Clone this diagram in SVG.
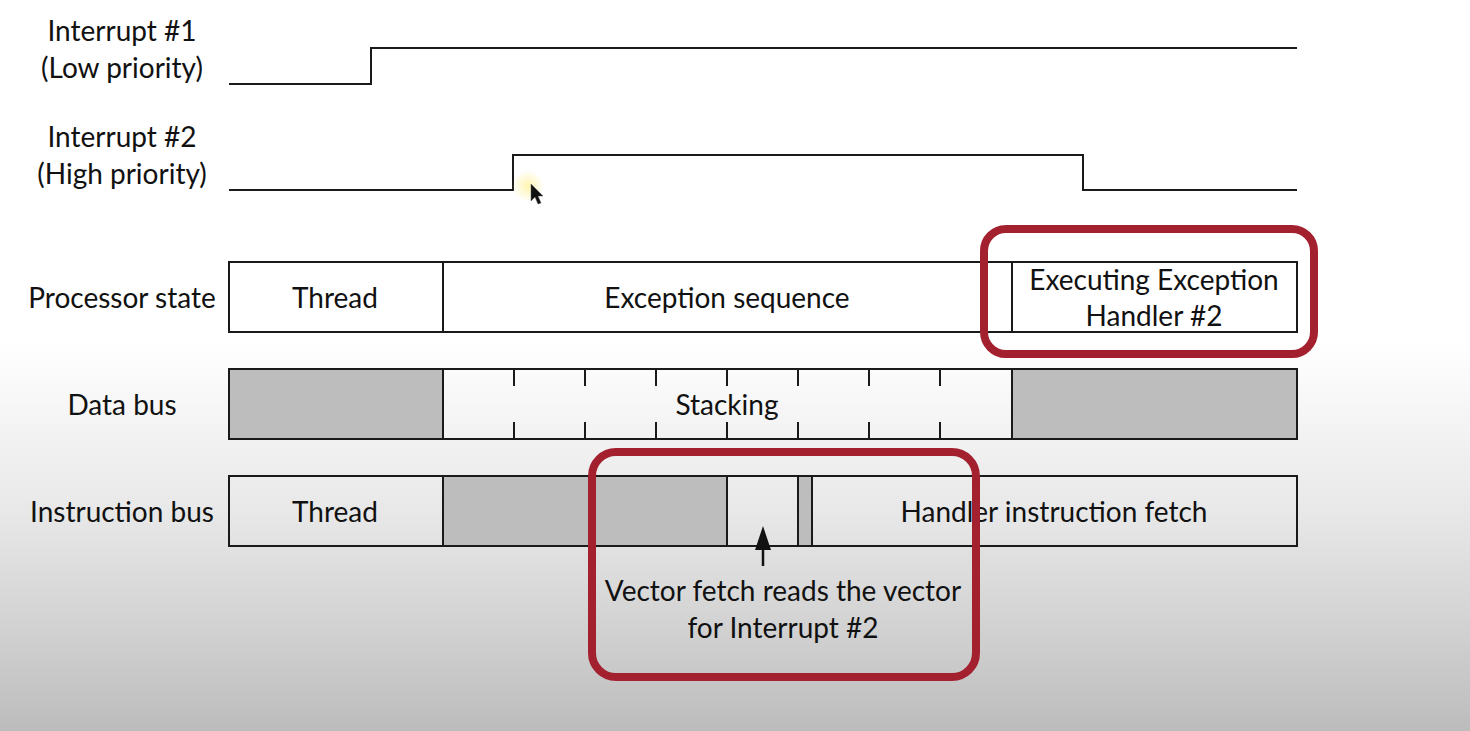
<svg xmlns="http://www.w3.org/2000/svg" width="1470" height="731" viewBox="0 0 1470 731">
<defs>
<linearGradient id="bg" x1="0" y1="0" x2="0" y2="731" gradientUnits="userSpaceOnUse">
<stop offset="0" stop-color="#ffffff"/>
<stop offset="0.47" stop-color="#ffffff"/>
<stop offset="0.7" stop-color="#e8e8e8"/>
<stop offset="0.85" stop-color="#d3d3d3"/>
<stop offset="1" stop-color="#bcbcbc"/>
</linearGradient>
<radialGradient id="halo">
<stop offset="0" stop-color="#fff3a8" stop-opacity="0.9"/>
<stop offset="1" stop-color="#fff3a8" stop-opacity="0"/>
</radialGradient>
</defs>
<style>
text{font-family:Lato,"Open Sans","Liberation Sans",sans-serif;font-size:28px;fill:#111;text-anchor:middle}
.wave{fill:none;stroke:#1a1a1a;stroke-width:2}
.box{fill:none;stroke:#1a1a1a;stroke-width:2}
.gray{fill:#bdbdbd;stroke:#1a1a1a;stroke-width:2}
.tick{stroke:#1a1a1a;stroke-width:2}
.hl{fill:none;stroke:#a3202e;stroke-width:8}
</style>
<rect x="0" y="0" width="1470" height="731" fill="url(#bg)"/>

<g id="labels">
<text x="122" y="41">Interrupt #1</text>
<text x="122" y="78">(Low priority)</text>
<text x="122" y="147">Interrupt #2</text>
<text x="122" y="184">(High priority)</text>
<text x="122" y="308">Processor state</text>
<text x="122" y="415">Data bus</text>
<text x="122" y="522">Instruction bus</text>
</g>

<g id="interrupt1">
<polyline class="wave" points="229,84 371,84 371,48 1297,48"/>
</g>
<g id="interrupt2">
<polyline class="wave" points="229,190 513,190 513,155 1083,155 1083,190 1297,190"/>
</g>

<g id="processor-state">
<rect class="box" x="229" y="262" width="1068" height="70" fill="#fff"/>
<line class="tick" x1="443" y1="262" x2="443" y2="332"/>
<line class="tick" x1="1012" y1="262" x2="1012" y2="332"/>
<text x="335" y="308">Thread</text>
<text x="727" y="308">Exception sequence</text>
<text x="1154" y="290">Executing Exception</text>
<text x="1154" y="326">Handler #2</text>
</g>

<g id="data-bus">
<rect class="gray" x="229" y="369" width="214" height="70"/>
<rect class="box" x="443" y="369" width="569" height="70"/>
<rect class="gray" x="1012" y="369" width="285" height="70"/>
<g class="tick">
<line x1="514" y1="369" x2="514" y2="386"/><line x1="514" y1="422" x2="514" y2="439"/>
<line x1="585" y1="369" x2="585" y2="386"/><line x1="585" y1="422" x2="585" y2="439"/>
<line x1="656" y1="369" x2="656" y2="386"/><line x1="656" y1="422" x2="656" y2="439"/>
<line x1="727" y1="369" x2="727" y2="386"/><line x1="727" y1="422" x2="727" y2="439"/>
<line x1="798" y1="369" x2="798" y2="386"/><line x1="798" y1="422" x2="798" y2="439"/>
<line x1="869" y1="369" x2="869" y2="386"/><line x1="869" y1="422" x2="869" y2="439"/>
<line x1="940" y1="369" x2="940" y2="386"/><line x1="940" y1="422" x2="940" y2="439"/>
</g>
<text x="727" y="415">Stacking</text>
</g>

<g id="instruction-bus">
<rect class="box" x="229" y="476" width="214" height="70"/>
<rect class="gray" x="443" y="476" width="284" height="70"/>
<rect class="box" x="727" y="476" width="71" height="70"/>
<rect class="gray" x="798" y="476" width="14" height="70"/>
<rect class="box" x="812" y="476" width="485" height="70"/>
<text x="335" y="522">Thread</text>
<text x="1054" y="522">Handler instruction fetch</text>
</g>

<g id="connectors">
<line x1="763" y1="566" x2="763" y2="546" stroke="#111" stroke-width="2.5"/>
<polygon points="763,526 755,550 771,550" fill="#111"/>
</g>

<g id="vector-note">
<text x="783" y="601">Vector fetch reads the vector</text>
<text x="783" y="638">for Interrupt #2</text>
</g>

<g id="highlight-handler">
<rect class="hl" x="984" y="229" width="330" height="125" rx="22"/>
</g>
<g id="highlight-vector">
<rect class="hl" x="592" y="452" width="384" height="225" rx="24"/>
</g>

<g id="cursor">
<circle cx="528" cy="186" r="16" fill="url(#halo)"/>
<path d="M531,184 L531,201 L535,197 L538,204 L541,203 L538,196 L543,196 z" fill="#111" stroke="#555" stroke-width="0.5"/>
</g>
</svg>
